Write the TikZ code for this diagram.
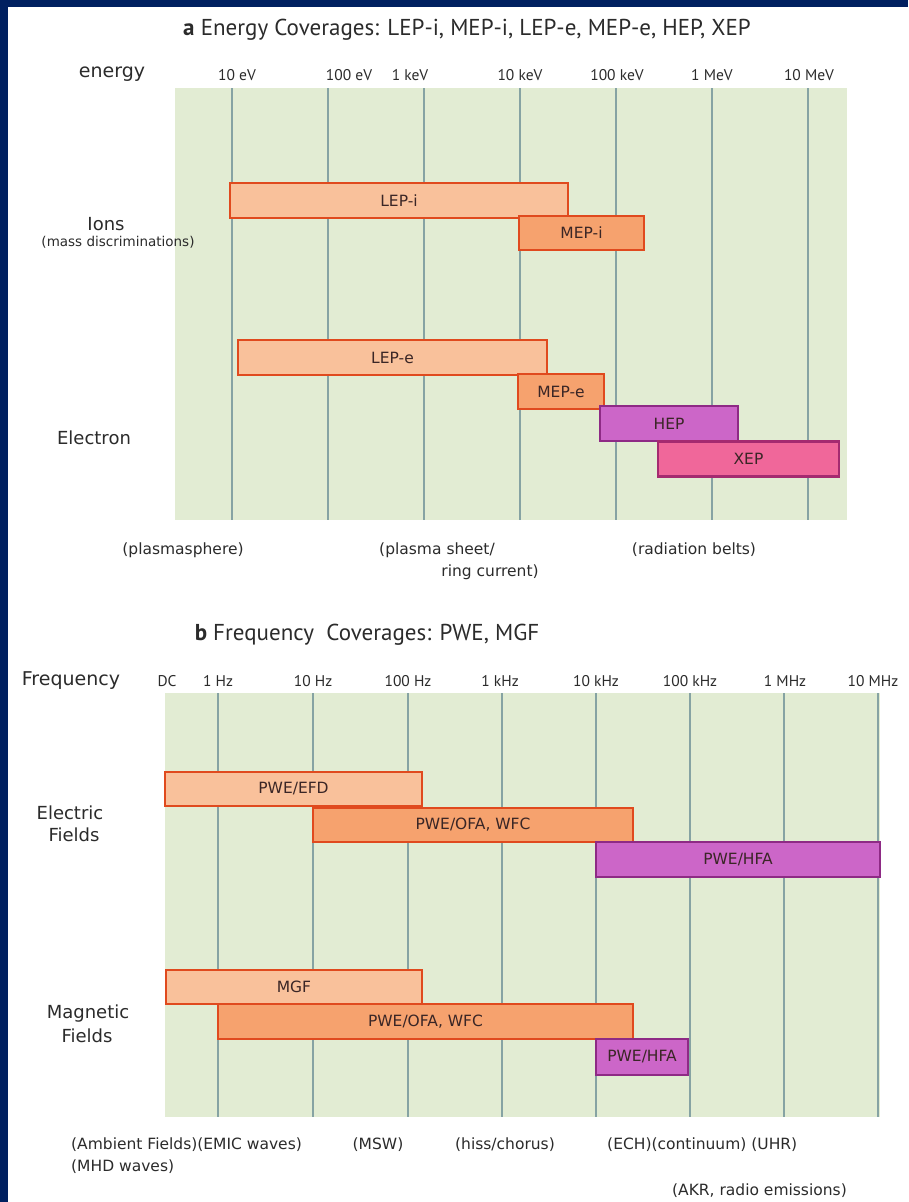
\documentclass[tikz,border=0pt]{standalone}
\usepackage{fontspec}
\setmainfont{DejaVu Sans}
\newfontfamily\ptsans{PT Sans}
\definecolor{navyb}{HTML}{002060}
\definecolor{bggreen}{HTML}{E2ECD3}
\definecolor{gridc}{HTML}{86A3A3}
\definecolor{redor}{HTML}{E04A1E}
\definecolor{lorange}{HTML}{F9C19B}
\definecolor{morange}{HTML}{F6A26E}
\definecolor{orchidf}{HTML}{CC66C8}
\definecolor{orchidd}{HTML}{8E2A85}
\definecolor{pinkf}{HTML}{F0679A}
\definecolor{pinkd}{HTML}{A52A70}
\definecolor{txt}{HTML}{2B2B2B}
\definecolor{bartxt}{HTML}{3A2626}
\tikzset{
  bgpanel/.style={fill=bggreen, draw=none},
  gline/.style={draw=gridc, line width=1.8pt},
  covbar/.style={line width=2.8pt, inner sep=0pt, text=bartxt, font=\fontsize{15.5}{17}\selectfont},
  lbar/.style={covbar, draw=redor, fill=lorange},
  mbar/.style={covbar, draw=redor, fill=morange},
  obar/.style={covbar, draw=orchidd, fill=orchidf},
  pbar/.style={covbar, draw=pinkd, fill=pinkf},
  ttl/.style={text=txt, font=\ptsans\fontsize{23}{26}\selectfont, inner sep=0pt},
  tick/.style={text=txt, font=\ptsans\fontsize{15.5}{17}\selectfont, inner sep=0pt},
  axlab/.style={text=txt, font=\fontsize{19}{22}\selectfont, inner sep=0pt},
  sidelab/.style={text=txt, font=\fontsize{18}{20}\selectfont, inner sep=0pt},
  smalllab/.style={text=txt, font=\fontsize{13.5}{15}\selectfont, inner sep=0pt},
  botlab/.style={text=txt, font=\fontsize{15.5}{17}\selectfont, inner sep=0pt},
}
\begin{document}
\begin{tikzpicture}[x=1pt,y=-1pt]
\useasboundingbox (0,0) rectangle (908,1202);
\fill[white] (0,0) rectangle (908,1202);
\fill[navyb] (0,0) rectangle (908,7);
\fill[navyb] (0,0) rectangle (8,1202);

% ---------------- panel a ----------------
\node[ttl] (ttla) at (467,30) {\textbf{a}\ Energy Coverages: LEP-i, MEP-i, LEP-e, MEP-e, HEP, XEP};
\node[axlab] (energy) at (112,74) {energy};
\node[tick] (t1) at (237,75) {10 eV};
\node[tick] (t2) at (349,75) {100 eV};
\node[tick] (t3) at (410,75) {1 keV};
\node[tick] (t4) at (520,75) {10 keV};
\node[tick] (t5) at (617,75) {100 keV};
\node[tick] (t6) at (712,75) {1 MeV};
\node[tick] (t7) at (809,75) {10 MeV};

\fill[bgpanel] (175,88) rectangle (847,520);
\foreach \xx in {232,328,424,520,616,712,808}
  \draw[gline] (\xx,88) -- (\xx,520);

\node[lbar, minimum width=338pt, minimum height=35pt] (lepi) at (399,200.5) {LEP-i};
\node[mbar, minimum width=125pt, minimum height=34pt] (mepi) at (581.5,233) {MEP-i};
\node[lbar, minimum width=309pt, minimum height=35pt] (lepe) at (392.5,357.5) {LEP-e};
\node[mbar, minimum width=86pt, minimum height=35pt] (mepe) at (561,391.5) {MEP-e};
\node[obar, minimum width=138pt, minimum height=35pt] (hep) at (669,423.5) {HEP};
\node[pbar, minimum width=181pt, minimum height=35pt] (xep) at (748.5,459) {XEP};

\node[sidelab] (ions) at (106,224) {Ions};
\node[smalllab] (mass) at (118,242) {(mass discriminations)};
\node[sidelab] (elec) at (94,438) {Electron};

\node[botlab] (plsph) at (183,550) {(plasmasphere)};
\node[botlab] (plsh) at (437,550) {(plasma sheet/};
\node[botlab] (ring) at (490,572) {ring current)};
\node[botlab] (radb) at (694,550) {(radiation belts)};

% ---------------- panel b ----------------
\node[ttl] (ttlb) at (367,635) {\textbf{b}\ Frequency\ \ Coverages: PWE, MGF};
\node[axlab] (freq) at (71,681) {Frequency};
\node[tick] (f0) at (167,681) {DC};
\node[tick] (f1) at (218,681) {1 Hz};
\node[tick] (f2) at (313,681) {10 Hz};
\node[tick] (f3) at (408,681) {100 Hz};
\node[tick] (f4) at (500,681) {1 kHz};
\node[tick] (f5) at (596,681) {10 kHz};
\node[tick] (f6) at (690,681) {100 kHz};
\node[tick] (f7) at (785,681) {1 MHz};
\node[tick] (f8) at (873,681) {10 MHz};

\fill[bgpanel] (165,693) rectangle (880,1117);
\foreach \xx in {218,313,408,502,596,690,784,878}
  \draw[gline] (\xx,693) -- (\xx,1117);

\node[lbar, minimum width=257pt, minimum height=34pt] (efd) at (293.5,789) {PWE/EFD};
\node[mbar, minimum width=320pt, minimum height=34pt] (ofae) at (473,825) {PWE/OFA, WFC};
\node[obar, minimum width=284pt, minimum height=35pt] (hfae) at (738,859.5) {PWE/HFA};
\node[lbar, minimum width=256pt, minimum height=34pt] (mgf) at (294,987) {MGF};
\node[mbar, minimum width=415pt, minimum height=35pt] (ofam) at (425.5,1021.5) {PWE/OFA, WFC};
\node[obar, minimum width=92pt, minimum height=36pt] (hfam) at (642,1057) {PWE/HFA};

\node[sidelab] (elf1) at (70,813) {Electric};
\node[sidelab] (elf2) at (74,835) {Fields};
\node[sidelab] (mgf1) at (88,1014) {Magnetic};
\node[sidelab] (mgf2) at (87,1036) {Fields};

\node[botlab, anchor=west] (amb) at (71,1145) {(Ambient Fields)(EMIC waves)};
\node[botlab, anchor=west] (mhd) at (71,1167) {(MHD waves)};
\node[botlab] (msw) at (378,1145) {(MSW)};
\node[botlab] (hiss) at (505,1145) {(hiss/chorus)};
\node[botlab, anchor=west] (ech) at (607,1145) {(ECH)(continuum) (UHR)};
\node[botlab, anchor=east] (akr) at (847,1191) {(AKR, radio emissions)};
\end{tikzpicture}
\end{document}
